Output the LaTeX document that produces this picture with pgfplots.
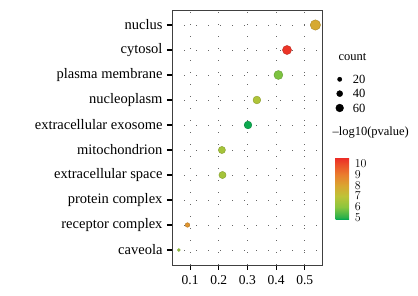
\documentclass[border=0pt]{standalone}
\usepackage{pgfplots}
\pgfplotsset{compat=1.18}
\usepackage{pgfplotstable}
\usepackage{fontspec}
\setmainfont{Liberation Serif}

\pgfplotstableread{
x y count p
0.537 9 90 7.85
0.438 8 75 10.4
0.408 7 74 5.85
0.333 6 60 6.7
0.302 5 60 4.9
0.211 4 53 6.5
0.213 3 53 6.5
0.091 1 23 8.4
0.061 0 5 6.2
}\godata

\pgfplotsset{
  colormap={gpv}{rgb255(0pt)=(0,166,81); rgb255(1.5pt)=(40,176,75); rgb255(11.5pt)=(140,198,62); rgb255(21.5pt)=(190,195,55); rgb255(31.5pt)=(218,165,48); rgb255(41.5pt)=(234,125,45); rgb255(51.5pt)=(236,75,40); rgb255(57.5pt)=(236,40,38)}
}

\begin{document}
\begin{tikzpicture}
\useasboundingbox (0,0) rectangle (418pt,296pt);
\begin{axis}[
  at={(172pt,31pt)}, anchor=south west,
  width=150pt, height=255pt, scale only axis,
  xmin=0.037, xmax=0.56,
  ymin=-0.6, ymax=9.6,
  xtick={0.1,0.2,0.3,0.4,0.5},
  xticklabels={0.1,0.2,0.3,0.4,0.5},
  ytick={0,...,9},
  yticklabels={caveola, receptor complex, protein complex, extracellular space, mitochondrion, extracellular exosome, nucleoplasm, plasma membrane, cytosol, nuclus},
  tick pos=left, tick align=outside,
  major tick length=5pt,
  tick style={black, line width=1.1pt},
  axis line style={black!75, line width=0.8pt},
  grid=major,
  major grid style={black!60, line width=0.9pt, dash pattern=on 0.9pt off 11.1pt},
  yticklabel style={font=\fontsize{14.5}{16}\selectfont, xshift=-1pt},
  xticklabel style={font=\fontsize{13.5}{15}\selectfont, yshift=-2pt},
  /pgf/number format/assume math mode=true,
  colormap name=gpv,
  point meta min=4.85, point meta max=10.6,
  colorbar,
  colorbar style={
    at={(parent axis.south east)}, anchor=south west,
    xshift=5pt, yshift=45.7pt,
    width=13.7pt, height=62pt, scale only axis,
    ytick={5,6,7,8,9,10},
    major tick length=0pt,
    axis line style={draw=none},
    yticklabel style={font=\fontsize{12}{13}\selectfont, xshift=2pt},
  },
  clip=false,
]
\addplot[scatter, only marks, mark=*,
  point meta=explicit,
  visualization depends on={\thisrow{count}\as\cnt},
  scatter/@pre marker code/.append style={/tikz/mark size={1.3+0.043*\cnt}},
] table[x=x, y=y, meta=p] {\godata};
\end{axis}

\node[anchor=west, font=\fontsize{12.5}{14}\selectfont] at (335pt,239pt) {count};
\node[anchor=west, font=\fontsize{12.5}{14}\selectfont] at (329pt,163pt) {--log10(pvalue)};

\begin{axis}[
  at={(339.7pt,188pt)}, anchor=south west,
  width=10pt, height=28.7pt, scale only axis,
  xmin=0, xmax=1, ymin=0, ymax=2,
  hide axis, clip=false,
  nodes near coords style={anchor=west, inner sep=0pt, xshift=13pt, font=\fontsize{12.5}{14}\selectfont, black},
]
\addplot[only marks, mark=*, black, mark size=2.16pt, nodes near coords={20}] coordinates {(0,2)};
\addplot[only marks, mark=*, black, mark size=3.02pt, nodes near coords={40}] coordinates {(0,1)};
\addplot[only marks, mark=*, black, mark size=3.88pt, nodes near coords={60}] coordinates {(0,0)};
\end{axis}
\end{tikzpicture}
\end{document}
